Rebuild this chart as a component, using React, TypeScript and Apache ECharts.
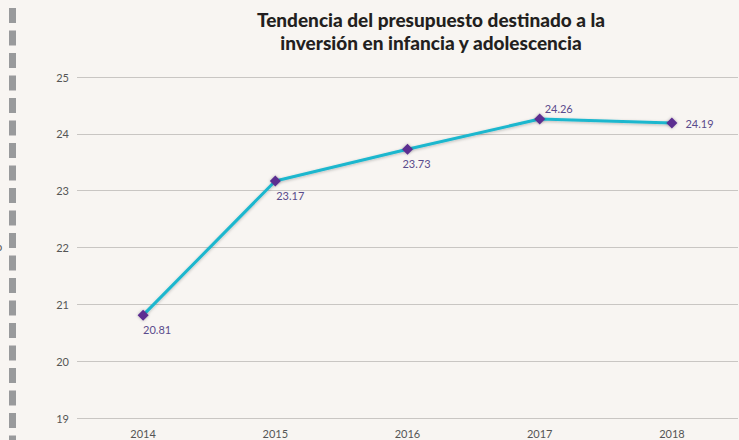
import React, { useEffect, useRef } from "react";
import * as echarts from "echarts";

const years = ["2014", "2015", "2016", "2017", "2018"];
const values = [20.81, 23.17, 23.73, 24.26, 24.19];
const labelPositions = ["bottom", "bottom", "bottom", "top", "right"];
const labelOffsets = [[14, -2], [15, -2], [9, -2], [19, 5], [3, 0]];
const titleText = "Tendencia del presupuesto destinado a la\ninversión en infancia y adolescencia";

export default function App() {
  const ref = useRef<HTMLDivElement>(null);
  useEffect(() => {
    if (!ref.current) return;
    const chart = echarts.init(ref.current, null, { renderer: "svg" });
    chart.setOption({
      animation: false,
      backgroundColor: "#f8f5f2",
      title: {
        text: titleText,
        left: 426,
        textAlign: "center",
        top: 3,
        textStyle: {
          fontFamily: "Lato",
          fontWeight: 900,
          fontSize: 19,
          lineHeight: 23,
          color: "#231f20",
        },
      },
      graphic: [
        {
          type: "line",
          shape: { x1: 12.5, y1: 8, x2: 12.5, y2: 440 },
          style: { stroke: "#999a9c", lineWidth: 7, lineDash: [15, 7.5] },
          silent: true,
        },
        {
          type: "text",
          x: -4,
          y: 241,
          style: { text: "o", fill: "#555", font: "11px Lato" },
        },
      ],
      grid: { left: 77, right: 1, top: 77, bottom: 22 },
      xAxis: {
        type: "category",
        data: years,
        boundaryGap: true,
        axisLine: { show: false },
        axisTick: { show: false },
        axisLabel: { color: "#555", fontFamily: "Lato", fontSize: 11, margin: 10 },
      },
      yAxis: {
        type: "value",
        min: 19,
        max: 25,
        interval: 1,
        axisLine: { show: false },
        axisTick: { show: false },
        axisLabel: { color: "#555", fontFamily: "Lato", fontSize: 11, margin: 8 },
        splitLine: { lineStyle: { color: "#c9c6c3", width: 1 } },
      },
      series: [
        {
          type: "line",
          data: values.map((v, i) => ({
            value: v,
            label: {
              show: true,
              position: labelPositions[i],
              offset: labelOffsets[i],
              formatter: (p: any) => String(p.value),
              color: "#5a4b8c",
              fontFamily: "Lato",
              fontSize: 11,
            },
          })),
          symbol: "diamond",
          symbolSize: 11,
          itemStyle: { color: "#5c2e91", shadowColor: "rgba(0,0,0,0.3)", shadowBlur: 3 },
          lineStyle: { color: "#1db7ce", width: 3, shadowColor: "rgba(0,0,0,0.25)", shadowBlur: 3, shadowOffsetY: 1 },
        },
      ],
    });
    return () => chart.dispose();
  }, []);
  return <div ref={ref} style={{ width: 739, height: 440, position: "absolute", left: 0, top: 0 }} />;
}
